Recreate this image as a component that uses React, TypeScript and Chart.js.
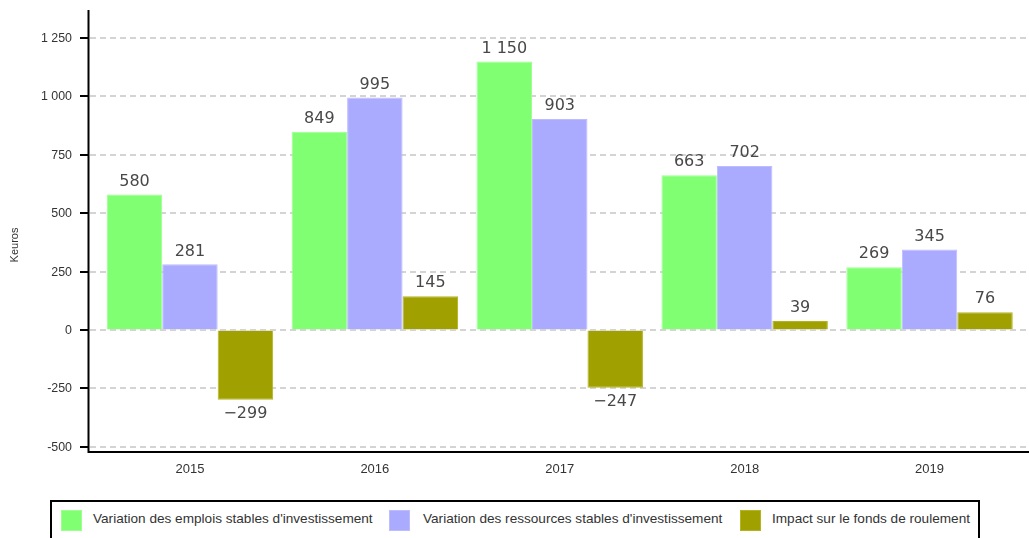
import React, { useEffect, useRef } from "react";
import { Chart, registerables } from "chart.js";

Chart.register(...registerables);

const categories = ["2015", "2016", "2017", "2018", "2019"];
const emplois = [580, 849, 1150, 663, 269];
const ressources = [281, 995, 903, 702, 345];
const impact = [-299, 145, -247, 39, 76];
const yTicks = [-500, -250, 0, 250, 500, 750, 1000, 1250];
const seriesNames = [
  "Variation des emplois stables d'investissement",
  "Variation des ressources stables d'investissement",
  "Impact sur le fonds de roulement",
];
const colors = ["#80ff72", "#aaaaff", "#a0a000"];
const borderColors = ["#9cff90", "#bcbcff", "#b4b420"];

const fmtThousands = (v: number) =>
  String(Math.abs(v)).replace(/\B(?=(\d{3})+(?!\d))/g, " ");
const fmtLabel = (v: number) => (v < 0 ? "\u2212" : "") + fmtThousands(v);
const fmtTick = (v: number) => (v < 0 ? "-" : "") + fmtThousands(v);

const GRID = "#d4d4d4";

const decorPlugin = {
  id: "decor",
  beforeDatasetsDraw(chart: any) {
    const { ctx, scales } = chart;
    const y = scales.y;
    ctx.save();
    ctx.strokeStyle = GRID;
    ctx.lineWidth = 2;
    ctx.setLineDash([6, 4]);
    yTicks.forEach((v) => {
      if (v === 0) return;
      const py = Math.round(y.getPixelForValue(v));
      ctx.beginPath();
      ctx.moveTo(90, py);
      ctx.lineTo(chart.width, py);
      ctx.stroke();
    });
    ctx.restore();
  },
  afterDatasetsDraw(chart: any) {
    const { ctx, chartArea, scales } = chart;
    const y = scales.y;
    ctx.save();
    // zero line over bars
    ctx.strokeStyle = GRID;
    ctx.lineWidth = 2;
    ctx.setLineDash([6, 4]);
    const zy = Math.round(y.getPixelForValue(0));
    ctx.beginPath();
    ctx.moveTo(90, zy);
    ctx.lineTo(chart.width, zy);
    ctx.stroke();
    ctx.setLineDash([]);

    // data labels
    ctx.fillStyle = "#484848";
    ctx.font = "16px 'DejaVu Sans'";
    ctx.textAlign = "center";
    chart.data.datasets.forEach((ds: any, i: number) => {
      const meta = chart.getDatasetMeta(i);
      meta.data.forEach((el: any, j: number) => {
        const v = ds.data[j];
        if (v >= 0) {
          ctx.textBaseline = "bottom";
          ctx.fillText(fmtLabel(v), el.x, el.y - 5);
        } else {
          ctx.textBaseline = "top";
          ctx.fillText(fmtLabel(v), el.x, el.y + 6);
        }
      });
    });

    // axes
    ctx.strokeStyle = "#000000";
    ctx.lineWidth = 2;
    const axX = 88.5;
    const axY = chartArea.bottom + 1;
    ctx.beginPath();
    ctx.moveTo(axX, chartArea.top);
    ctx.lineTo(axX, axY);
    ctx.lineTo(chart.width, axY);
    ctx.stroke();
    ctx.fillStyle = "#333333";
    ctx.font = "12.4px 'Liberation Sans'";
    ctx.textAlign = "right";
    ctx.textBaseline = "middle";
    yTicks.forEach((v) => {
      const py = Math.round(y.getPixelForValue(v));
      ctx.beginPath();
      ctx.moveTo(80, py);
      ctx.lineTo(axX, py);
      ctx.stroke();
      ctx.fillText(fmtTick(v), 72, py + 1);
    });

    // axis title
    ctx.fillStyle = "#333333";
    ctx.font = "11px 'Liberation Sans'";
    ctx.textAlign = "center";
    ctx.textBaseline = "middle";
    ctx.translate(15, 245);
    ctx.rotate(-Math.PI / 2);
    ctx.fillText("Keuros", 0, 0);
    ctx.restore();
  },
};

export default function App() {
  const canvasRef = useRef<HTMLCanvasElement>(null);

  useEffect(() => {
    document.body.style.margin = "0";
    const canvas = canvasRef.current;
    if (!canvas) return;
    const chart = new Chart(canvas, {
      type: "bar",
      data: {
        labels: categories,
        datasets: [emplois, ressources, impact].map((d, i) => ({
          label: seriesNames[i],
          data: d,
          backgroundColor: colors[i],
          borderColor: borderColors[i],
          borderWidth: 1,
          categoryPercentage: 0.9,
          barPercentage: 1.0,
        })),
      },
      options: {
        responsive: false,
        animation: false,
        layout: { padding: { top: 10, right: 7, bottom: 37, left: 0 } },
        plugins: {
          legend: { display: false },
          tooltip: { enabled: false },
        },
        scales: {
          x: {
            grid: { display: false, drawTicks: false },
            border: { display: false },
            ticks: {
              color: "#333333",
              font: { family: "'Liberation Sans'", size: 13 },
              padding: 11,
            },
            afterFit: (s: any) => {
              s.height = 50;
            },
          },
          y: {
            min: -518,
            max: 1370,
            grid: { drawOnChartArea: false, drawTicks: false },
            border: { display: false },
            ticks: { display: false },
            afterBuildTicks: (s: any) => {
              s.ticks = yTicks.map((v) => ({ value: v }));
            },
            afterFit: (s: any) => {
              s.width = 97.5;
            },
          },
        },
      },
      plugins: [decorPlugin],
    });
    return () => chart.destroy();
  }, []);

  const legendItems = [
    { sq: 61, tx: 93 },
    { sq: 389, tx: 423 },
    { sq: 740, tx: 772 },
  ];

  return (
    <div style={{ position: "relative", width: 1029, height: 538, overflow: "hidden" }}>
      <canvas ref={canvasRef} width={1029} height={538} style={{ display: "block" }} />
      <div
        style={{
          position: "absolute",
          left: 50,
          top: 500,
          width: 926,
          height: 50,
          border: "2px solid #000",
          background: "#fff",
        }}
      />
      {legendItems.map((it, i) => (
        <React.Fragment key={i}>
          <div
            style={{
              position: "absolute",
              left: it.sq,
              top: 510,
              width: 21,
              height: 21,
              boxSizing: "border-box",
              background: colors[i],
              border: `1px solid ${borderColors[i]}`,
            }}
          />
          <div
            style={{
              position: "absolute",
              left: it.tx,
              top: 511,
              fontFamily: "'Liberation Sans', Arial, sans-serif",
              fontSize: 13.6,
              lineHeight: "16px",
              color: "#333",
              whiteSpace: "nowrap",
            }}
          >
            {seriesNames[i]}
          </div>
        </React.Fragment>
      ))}
    </div>
  );
}
